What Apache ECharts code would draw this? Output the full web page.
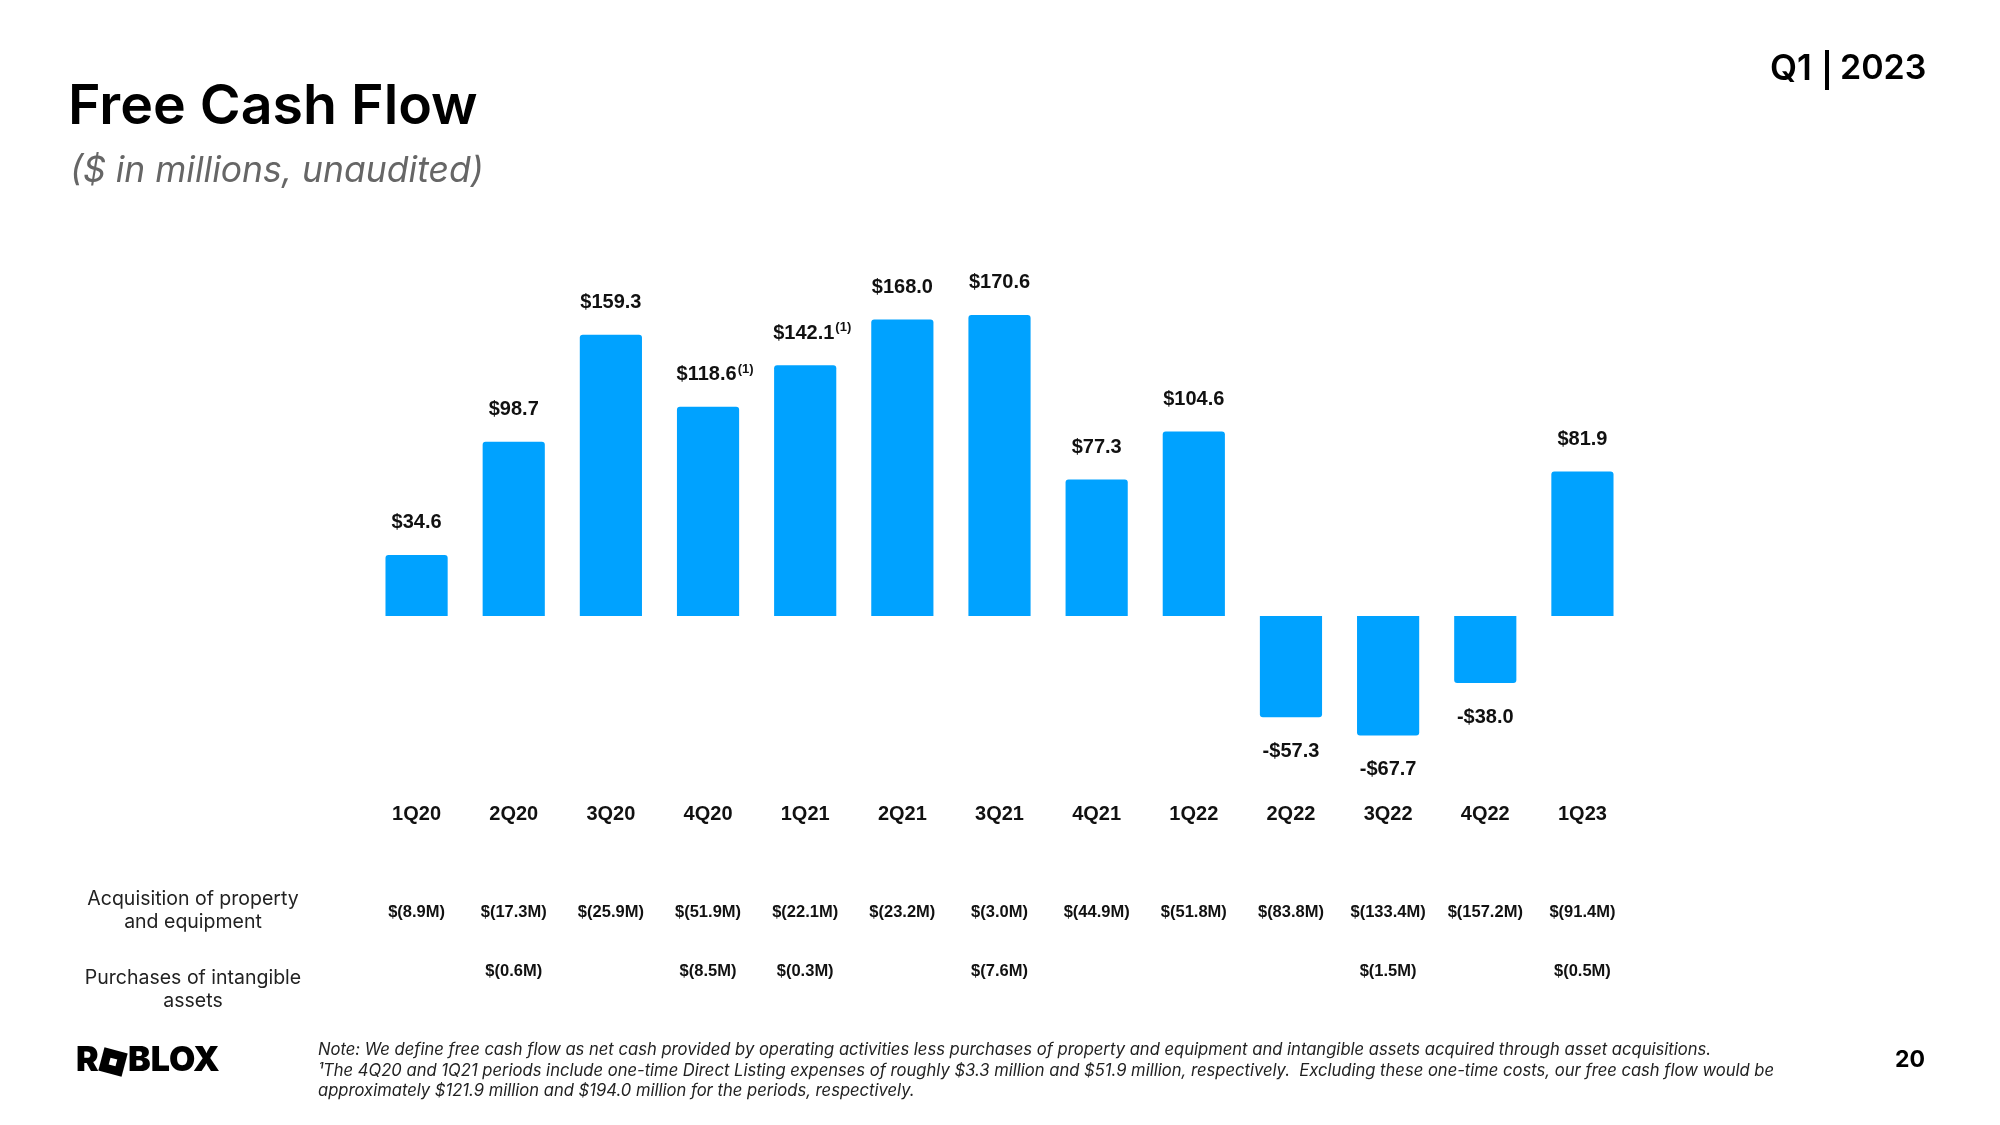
<!DOCTYPE html>
<html>
<head>
<meta charset="utf-8">
<script src="https://cdn.jsdelivr.net/npm/echarts@6/dist/echarts.min.js"></script>
<style>
html,body{margin:0;padding:0;background:#fff;}
#c{width:2000px;height:1125px;}
</style>
</head>
<body>
<div id="c"></div>
<script>
const categories = ['1Q20','2Q20','3Q20','4Q20','1Q21','2Q21','3Q21','4Q21','1Q22','2Q22','3Q22','4Q22','1Q23'];
const freeCashFlow = [34.6, 98.7, 159.3, 118.6, 142.1, 168.0, 170.6, 77.3, 104.6, -57.3, -67.7, -38.0, 81.9];
const footnotes = ['', '', '', '(1)', '(1)', '', '', '', '', '', '', '', ''];
const capexLabels = ['$(8.9M)','$(17.3M)','$(25.9M)','$(51.9M)','$(22.1M)','$(23.2M)','$(3.0M)','$(44.9M)','$(51.8M)','$(83.8M)','$(133.4M)','$(157.2M)','$(91.4M)'];
const intangibleLabels = ['', '$(0.6M)', '', '$(8.5M)', '$(0.3M)', '', '$(7.6M)', '', '', '', '$(1.5M)', '', '$(0.5M)'];
const rowLabels = ['Acquisition of property\nand equipment', 'Purchases of intangible\nassets'];
const noteLines = [
  'Note: We define free cash flow as net cash provided by operating activities less purchases of property and equipment and intangible assets acquired through asset acquisitions.',
  '\u00b9The 4Q20 and 1Q21 periods include one-time Direct Listing expenses of roughly $3.3 million and $51.9 million, respectively.  Excluding these one-time costs, our free cash flow would be',
  'approximately $121.9 million and $194.0 million for the periods, respectively.'
];

const BLUE = '#00A2FF';
const fmt = v => (v < 0 ? '-$' : '$') + Math.abs(v).toFixed(1);

const barData = freeCashFlow.map((v, i) => {
  const fn = footnotes[i];
  return {
    value: v,
    itemStyle: { borderRadius: v >= 0 ? [3,3,0,0] : [0,0,3,3] },
    label: {
      show: true,
      position: v >= 0 ? 'top' : 'bottom',
      distance: v >= 0 ? 20 : 22,
      formatter: fn ? '{a|' + fmt(v) + '}{s|' + fn + '}' : '{a|' + fmt(v) + '}',
      offset: fn ? [7, 0] : [0, 0]
    }
  };
});

const chart = echarts.init(document.getElementById('c'), null, { renderer: 'canvas' });

const labelFont = { fontFamily: 'Liberation Sans, Arial, sans-serif', fontWeight: 'bold', color: '#111' };

const option = {
  backgroundColor: '#ffffff',
  animation: false,
  grid: { left: 368, right: 369, top: 263, bottom: 332.5, containLabel: false },
  xAxis: [
    {
      type: 'category', data: categories, position: 'bottom',
      axisLine: { show: false, onZero: false }, axisTick: { show: false }, splitLine: { show: false },
      axisLabel: { interval: 0, margin: 12, fontSize: 20, ...labelFont }
    },
    {
      type: 'category', data: categories, position: 'bottom', offset: 98,
      axisLine: { show: false, onZero: false }, axisTick: { show: false }, splitLine: { show: false },
      axisLabel: { interval: 0, margin: 13, fontSize: 16.5, ...labelFont, formatter: (v, i) => capexLabels[i] }
    },
    {
      type: 'category', data: categories, position: 'bottom', offset: 157,
      axisLine: { show: false, onZero: false }, axisTick: { show: false }, splitLine: { show: false },
      axisLabel: { interval: 0, margin: 13, fontSize: 16.5, ...labelFont, formatter: (v, i) => intangibleLabels[i] }
    }
  ],
  yAxis: {
    type: 'value', min: -100, max: 200, show: false,
    splitLine: { show: false }
  },
  series: [{
    type: 'bar',
    xAxisIndex: 0,
    data: barData,
    barCategoryGap: '36%',
    itemStyle: { color: BLUE },
    label: {
      show: true,
      rich: {
        a: { fontSize: 20, fontFamily: 'Liberation Sans, Arial, sans-serif', fontWeight: 'bold', color: '#111', lineHeight: 24 },
        s: { fontSize: 13, fontFamily: 'Liberation Sans, Arial, sans-serif', fontWeight: 'bold', color: '#111', verticalAlign: 'top', lineHeight: 24, padding: [0, 0, 12, 1] }
      }
    }
  }],
  graphic: [
    { type: 'text', left: 68, top: 79, style: { text: 'Free Cash Flow', font: '600 55.5px Inter, sans-serif', fill: '#000' } },
    { type: 'text', left: 70, top: 153, style: { text: '($ in millions, unaudited)', font: 'italic 400 35.5px Inter, sans-serif', fill: '#666' } },
    { type: 'text', left: 1770, top: 52, style: { text: 'Q1', font: '600 35px Inter, sans-serif', fill: '#000' } },
    { type: 'rect', shape: { x: 1825, y: 50, width: 4, height: 40 }, style: { fill: '#000' } },
    { type: 'text', left: 1840, top: 52, style: { text: '2023', font: '600 34px Inter, sans-serif', fill: '#000' } },
    { type: 'text', x: 193, y: 888, style: { text: rowLabels[0], font: '400 19.5px Inter, sans-serif', fill: '#222', align: 'center', verticalAlign: 'top', lineHeight: 23 } },
    { type: 'text', x: 193, y: 967, style: { text: rowLabels[1], font: '400 19.5px Inter, sans-serif', fill: '#222', align: 'center', verticalAlign: 'top', lineHeight: 23 } },
    { type: 'text', left: 318, top: 1040, style: { text: noteLines.join('\n'), font: 'italic 400 16.6px Inter, sans-serif', fill: '#222', lineHeight: 20.5 } },
    { type: 'text', left: 1895, top: 1049, style: { text: '20', font: '700 23px Inter, sans-serif', fill: '#000' } },
    // logo
    { type: 'text', left: 76, top: 1044, style: { text: 'R', font: '900 34px Inter, sans-serif', fill: '#000' } },
    { type: 'rect', x: 113, y: 1062, rotation: -0.26, shape: { x: -12, y: -12, width: 24, height: 24 }, style: { fill: '#000' } },
    { type: 'rect', x: 113, y: 1062, rotation: -0.26, shape: { x: -3.5, y: -3.5, width: 7, height: 7 }, style: { fill: '#fff' } },
    { type: 'text', left: 128, top: 1044, style: { text: 'BLOX', font: '900 34px Inter, sans-serif', fill: '#000', textLetterSpacing: 8 } }
  ]
};

chart.setOption(option);
</script>
</body>
</html>
